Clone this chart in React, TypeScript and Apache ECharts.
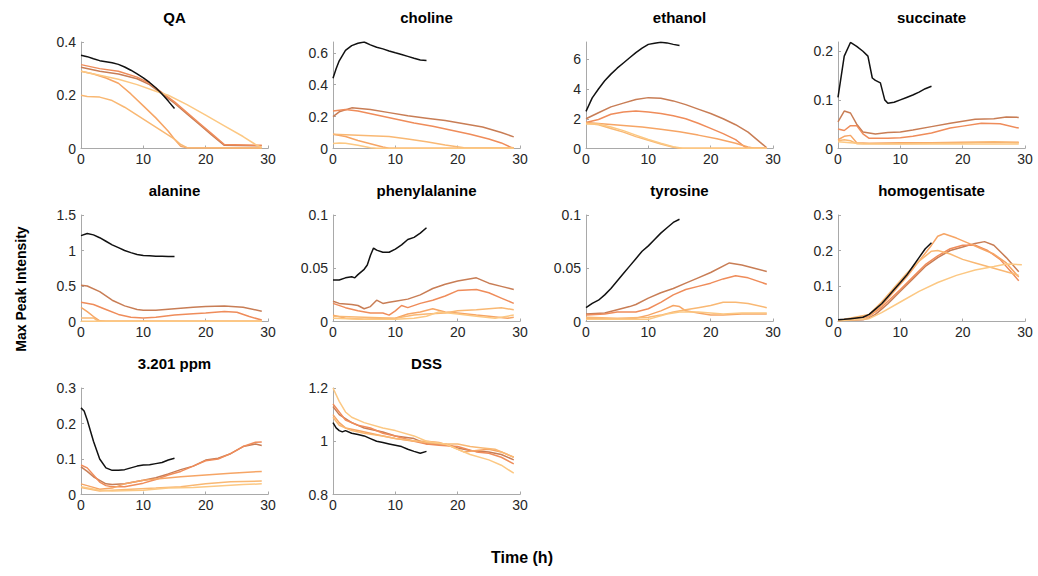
import React, { useEffect, useRef } from "react";
import * as echarts from "echarts";

// ---------- data ----------
const titles = ["QA", "choline", "ethanol", "succinate", "alanine", "phenylalanine", "tyrosine", "homogentisate", "3.201 ppm", "DSS"];
const yMins = [0, 0, 0, 0, 0, 0, 0, 0, 0, 0.8];
const yMaxs = [0.4, 0.668, 7.16, 0.219, 1.5, 0.1, 0.1, 0.3, 0.3, 1.2];
const yTickLabels = [
  [0, 0.2, 0.4],
  [0, 0.2, 0.4, 0.6],
  [0, 2, 4, 6],
  [0, 0.1, 0.2],
  [0, 0.5, 1, 1.5],
  [0, 0.05, 0.1],
  [0, 0.05, 0.1],
  [0, 0.1, 0.2, 0.3],
  [0, 0.1, 0.2, 0.3],
  [0.8, 1, 1.2],
];
const xTickLabels = [0, 10, 20, 30];

const qaBlack = [[0,.35],[1,.345],[2,.337],[3,.33],[4,.326],[5,.322],[6,.316],[7,.306],[8,.294],[9,.28],[10,.265],[11,.248],[12,.228],[13,.205],[14,.178],[15,.15]];
const qaOrange = [
  [[0,.305],[3,.29],[6,.28],[9,.262],[11,.24],[13,.205],[15,.17],[17,.13],[19,.09],[21,.05],[23,.012],[29,.01]],
  [[0,.315],[3,.3],[6,.29],[9,.268],[11,.245],[13,.21],[15,.175],[17,.135],[19,.095],[21,.055],[23,.015],[29,.012]],
  [[0,.29],[2,.28],[4,.265],[6,.245],[8,.205],[10,.16],[12,.115],[14,.065],[15,.035],[16,.008],[17,.003],[29,.002]],
  [[0,.2],[1,.195],[3,.193],[5,.18],[7,.155],[9,.125],[11,.095],[13,.065],[15,.035],[16,.015],[17,.003],[29,.002]],
  [[0,.29],[3,.275],[6,.26],[9,.24],[12,.215],[14,.2],[17,.165],[20,.125],[23,.085],[26,.045],[28,.015],[29,.003]],
];

const cholineBlack = [[0,.44],[0.5,.5],[1,.55],[2,.615],[3,.645],[4,.66],[5,.668],[6,.65],[7,.635],[8,.625],[9,.612],[10,.6],[11,.59],[12,.578],[13,.566],[14,.555],[15,.552]];
const cholineOrange = [
  [[0,.2],[1,.23],[3,.255],[6,.245],[9,.225],[12,.205],[15,.19],[18,.175],[21,.155],[24,.135],[27,.1],[29,.073]],
  [[0,.235],[2,.245],[4,.235],[7,.21],[10,.185],[13,.16],[16,.14],[19,.115],[22,.09],[25,.06],[27,.035],[28.5,.008],[29,.003]],
  [[0,.09],[2,.075],[4,.05],[6,.03],[8,.01],[9,.002],[29,.002]],
  [[0,.09],[3,.085],[6,.08],[9,.075],[12,.06],[15,.042],[18,.022],[21,.004],[29,.003]],
  [[0,.032],[1,.035],[2,.033],[4,.02],[6,.005],[7,.002],[29,.002]],
];

const ethanolBlack = [[0,2.5],[1,3.4],[2,4.0],[3,4.55],[4,5.0],[5,5.4],[6,5.75],[7,6.1],[8,6.45],[9,6.75],[10,7.0],[11,7.08],[12,7.15],[13,7.1],[14,7.0],[15,6.92]];
const ethanolOrange = [
  [[0,2.0],[2,2.4],[4,2.8],[6,3.05],[8,3.3],[10,3.42],[12,3.38],[14,3.2],[16,2.95],[18,2.65],[20,2.35],[22,2.0],[24,1.6],[26,1.1],[28,0.4],[29,0.05]],
  [[0,1.75],[2,1.95],[4,2.3],[6,2.45],[8,2.52],[10,2.45],[12,2.35],[14,2.2],[16,2.0],[18,1.7],[20,1.35],[22,1.0],[24,0.6],[25.5,0.1],[26,0.02],[29,0.01]],
  [[0,1.75],[3,1.65],[6,1.55],[9,1.45],[12,1.3],[15,1.12],[18,0.9],[21,0.65],[24,0.35],[26,0.1],[27,0.02],[29,0.01]],
  [[0,1.7],[2,1.6],[4,1.35],[6,1.1],[8,0.8],[10,0.55],[12,0.3],[14,0.08],[15,0.01],[29,0.01]],
  [[0,1.65],[2,1.65],[4,1.45],[6,1.2],[8,0.9],[10,0.6],[12,0.35],[14,0.12],[15.5,0.02],[29,0.01]],
];

const succinateBlack = [[0,.105],[1,.19],[2,.218],[3,.21],[4,.2],[4.8,.19],[5.5,.145],[6,.14],[6.8,.135],[7.5,.1],[8,.093],[9,.095],[10,.1],[11,.105],[12,.11],[13,.116],[14,.123],[15,.128]];
const succinateOrange = [
  [[0,.055],[1,.077],[2,.073],[3,.05],[4,.034],[6,.03],[8,.033],[10,.034],[12,.038],[15,.045],[18,.052],[20,.056],[22,.06],[25,.061],[27,.065],[29,.064]],
  [[0,.04],[1,.037],[2,.047],[3,.047],[4,.03],[5,.021],[8,.021],[10,.022],[12,.025],[15,.032],[18,.042],[20,.046],[23,.052],[26,.051],[29,.042]],
  [[0,.018],[1,.025],[2,.027],[3,.012],[5,.011],[10,.012],[15,.012],[20,.013],[25,.013],[29,.013]],
  [[0,.016],[1,.018],[2,.016],[3,.01],[8,.01],[15,.011],[20,.012],[25,.014],[29,.012]],
  [[0,.014],[2,.012],[4,.01],[10,.009],[16,.01],[22,.009],[29,.009]],
];

const alanineBlack = [[0,1.21],[1,1.24],[2,1.22],[3,1.18],[4,1.13],[5,1.08],[6,1.04],[7,1.0],[8,.97],[9,.945],[10,.93],[11,.925],[12,.92],[13,.92],[14,.915],[15,.915]];
const alanineOrange = [
  [[0,.51],[1,.5],[3,.42],[5,.3],[7,.22],[9,.17],[10,.16],[12,.16],[15,.18],[18,.2],[20,.21],[23,.22],[26,.2],[29,.145]],
  [[0,.27],[2,.24],[4,.17],[6,.1],[8,.06],[10,.05],[12,.06],[15,.09],[18,.11],[20,.12],[23,.14],[25,.13],[27,.07],[29,.02]],
  [[0,.2],[1,.14],[2,.07],[3,.01],[4,.003],[29,.003]],
  [[0,.05],[2,.05],[2.5,.02],[3,.005],[29,.005]],
  [[0,.005],[29,.003]],
];

const pheBlack = [[0,.039],[1,.039],[2,.041],[3,.042],[3.5,.041],[4,.044],[5,.049],[5.5,.053],[6,.062],[6.5,.069],[7,.067],[8,.065],[9,.065],[10,.068],[11,.072],[12,.077],[13,.079],[14,.083],[15,.088]];
const pheOrange = [
  [[0,.019],[1,.017],[3,.016],[4,.015],[5,.012],[6,.014],[7,.02],[8,.017],[9,.018],[10,.019],[12,.021],[14,.025],[16,.031],[18,.035],[20,.038],[23,.041],[25,.036],[27,.033],[29,.03]],
  [[0,.017],[2,.013],[4,.01],[6,.008],[8,.008],[9,.006],[10,.01],[11,.015],[12,.013],[14,.017],[16,.02],[18,.024],[20,.029],[23,.03],[25,.027],[27,.022],[29,.017]],
  [[0,.006],[2,.003],[5,.002],[10,.003],[12,.007],[14,.009],[16,.012],[18,.009],[20,.008],[23,.006],[25,.005],[28,.003],[29,.004]],
  [[0,.005],[5,.004],[10,.003],[13,.006],[15,.007],[18,.008],[20,.01],[23,.011],[25,.012],[27,.013],[29,.011]],
  [[0,.003],[5,.002],[10,.002],[13,.003],[15,.005],[17,.009],[20,.007],[23,.005],[26,.003],[28,.005],[29,.006]],
];

const tyrBlack = [[0,.013],[1,.017],[2,.02],[3,.025],[4,.031],[5,.038],[6,.045],[7,.052],[8,.059],[9,.066],[10,.071],[11,.077],[12,.083],[13,.088],[14,.093],[15,.096]];
const tyrOrange = [
  [[0,.007],[3,.008],[5,.011],[7,.014],[8,.016],[10,.022],[12,.027],[14,.031],[16,.036],[18,.041],[20,.046],[23,.055],[25,.053],[27,.05],[29,.047]],
  [[0,.006],[3,.007],[5,.009],[8,.009],[10,.012],[12,.018],[14,.025],[16,.03],[18,.033],[20,.036],[22,.04],[24,.043],[26,.041],[29,.035]],
  [[0,.003],[5,.002],[8,.003],[10,.006],[12,.01],[14,.015],[15,.014],[16,.01],[18,.008],[20,.006],[22,.006],[25,.007],[29,.007]],
  [[0,.004],[5,.003],[10,.004],[12,.006],[14,.009],[16,.011],[18,.013],[20,.015],[22,.018],[24,.018],[26,.017],[29,.013]],
  [[0,.002],[5,.002],[10,.002],[13,.007],[15,.009],[18,.009],[22,.007],[25,.008],[29,.008]],
];

const hgaBlack = [[0,.005],[1,.006],[2,.008],[3,.01],[4,.012],[5,.02],[6,.035],[7,.05],[8,.07],[9,.09],[10,.11],[11,.13],[12,.155],[13,.18],[14,.205],[15,.222]];
const hgaOrange = [
  [[0,.003],[4,.005],[5,.01],[6,.02],[7,.035],[8,.05],[10,.085],[12,.12],[14,.155],[16,.18],[18,.2],[20,.21],[22,.22],[23.5,.225],[25,.215],[27,.18],[29,.14]],
  [[0,.003],[5,.015],[7,.04],[10,.09],[12,.125],[14,.16],[16,.185],[18,.205],[20,.215],[22,.215],[24,.2],[26,.175],[28,.135],[29,.115]],
  [[0,.003],[4,.006],[5,.015],[7,.045],[9,.085],[11,.125],[13,.17],[15,.215],[16,.24],[17,.247],[19,.235],[21,.22],[23,.205],[25,.19],[27,.165],[29,.125]],
  [[0,.003],[5,.02],[7,.055],[9,.095],[11,.135],[13,.17],[15,.198],[16,.2],[18,.19],[20,.175],[22,.165],[24,.155],[26,.145],[28,.135],[29,.13]],
  [[0,.002],[5,.008],[7,.025],[10,.055],[13,.085],[16,.11],[19,.13],[22,.145],[25,.155],[27,.162],[29.5,.16]],
];

const ppmBlack = [[0,.244],[0.5,.235],[1,.21],[2,.15],[3,.1],[4,.075],[5,.068],[6,.068],[7,.07],[8,.075],[9,.08],[10,.083],[11,.084],[12,.087],[13,.09],[14,.097],[15,.102]];
const ppmOrange = [
  [[0,.078],[1,.065],[2,.05],[3,.04],[4,.03],[5,.028],[7,.03],[10,.04],[12,.047],[14,.058],[16,.07],[18,.08],[20,.097],[22,.102],[24,.115],[26,.135],[28,.142],[29,.138]],
  [[0,.083],[1,.075],[2,.055],[3,.035],[4,.025],[5,.022],[7,.022],[10,.032],[12,.042],[14,.055],[16,.065],[18,.08],[20,.095],[22,.1],[24,.115],[26,.135],[28,.147],[29,.148]],
  [[0,.03],[2,.02],[3,.015],[5,.018],[7,.03],[10,.04],[13,.045],[16,.05],[20,.055],[24,.06],[29,.065]],
  [[0,.02],[3,.01],[5,.012],[8,.015],[12,.018],[16,.022],[20,.03],[24,.036],[29,.038]],
  [[0,.022],[3,.012],[5,.01],[10,.012],[14,.018],[18,.02],[22,.024],[26,.028],[29,.03]],
];

const dssBlack = [[0,1.07],[0.5,1.05],[1,1.04],[1.5,1.035],[2,1.04],[3,1.03],[4,1.025],[5,1.02],[6,1.01],[7,1.0],[8,.995],[9,.99],[10,.985],[11,.98],[12,.97],[13,.962],[14,.955],[15,.962]];
const dssOrange = [
  [[0,1.13],[1,1.1],[3,1.07],[5,1.05],[8,1.035],[10,1.02],[13,1.01],[15,.99],[18,.99],[20,.975],[22,.965],[25,.96],[27,.95],[29,.93]],
  [[0,1.14],[1,1.11],[2,1.08],[4,1.06],[6,1.05],[8,1.03],[10,1.02],[13,1.0],[15,.99],[17,.985],[20,.98],[23,.96],[25,.955],[27,.94],[29,.915]],
  [[0,1.1],[1,1.07],[2,1.05],[4,1.04],[6,1.03],[8,1.02],[10,1.01],[13,1.0],[15,1.0],[17,.995],[19,.98],[21,.96],[23,.965],[25,.97],[27,.96],[29,.94]],
  [[0,1.09],[1,1.06],[3,1.04],[5,1.03],[8,1.02],[10,1.01],[12,1.005],[15,.995],[18,.99],[20,.99],[22,.98],[24,.975],[26,.97],[28,.95],[29,.94]],
  [[0,1.2],[1,1.15],[2,1.11],[3,1.09],[5,1.07],[8,1.05],[10,1.04],[13,1.02],[15,1.0],[18,.99],[20,.97],[22,.95],[25,.93],[27,.91],[29,.88]],
];

const blackSeries = [qaBlack, cholineBlack, ethanolBlack, succinateBlack, alanineBlack, pheBlack, tyrBlack, hgaBlack, ppmBlack, dssBlack];
const orangeSeries = [qaOrange, cholineOrange, ethanolOrange, succinateOrange, alanineOrange, pheOrange, tyrOrange, hgaOrange, ppmOrange, dssOrange];

// ---------- style ----------
const orangeColors = ["#c87d55", "#ef8c5a", "#f6a565", "#f9b873", "#fcc883"];
const FONT = "'Liberation Sans', Arial, Helvetica, sans-serif";
const colLefts = [81, 333, 586, 838];
const rowTops = [42, 215, 388];
const plotW = 187;
const plotH = 106.5;
const axisGray = "#a9a9a9";
const textColor = "#262626";

export default function App() {
  const ref = useRef<HTMLDivElement>(null);
  useEffect(() => {
    if (!ref.current) return;
    const chart = echarts.init(ref.current, undefined, { renderer: "svg" });
    const grids: any[] = [];
    const xAxes: any[] = [];
    const yAxes: any[] = [];
    const series: any[] = [];
    const graphics: any[] = [];
    titles.forEach((t, i) => {
      const left = colLefts[i % 4];
      const top = rowTops[Math.floor(i / 4)];
      grids.push({ left, top, width: plotW, height: plotH, containLabel: false });
      xAxes.push({
        gridIndex: i, type: "value", min: 0, max: 30, interval: 10,
        axisLine: { show: true, onZero: false, lineStyle: { color: axisGray, width: 1 } },
        axisTick: { show: true, inside: true, length: 3, lineStyle: { color: axisGray } },
        axisLabel: { margin: 3, color: textColor, fontSize: 14, fontFamily: FONT, customValues: xTickLabels },
        splitLine: { show: false },
      });
      yAxes.push({
        gridIndex: i, type: "value", min: yMins[i], max: yMaxs[i],
        axisLine: { show: true, onZero: false, lineStyle: { color: axisGray, width: 1 } },
        axisTick: { show: true, inside: true, length: 3, lineStyle: { color: axisGray }, customValues: yTickLabels[i] },
        axisLabel: { margin: 5, color: textColor, fontSize: 14, fontFamily: FONT, customValues: yTickLabels[i] },
        splitLine: { show: false },
      });
      orangeSeries[i].forEach((d, k) => {
        series.push({
          type: "line", xAxisIndex: i, yAxisIndex: i, data: d, showSymbol: false, silent: true,
          lineStyle: { color: orangeColors[k], width: 1.5 }, z: 2,
        });
      });
      series.push({
        type: "line", xAxisIndex: i, yAxisIndex: i, data: blackSeries[i], showSymbol: false, silent: true,
        lineStyle: { color: "#111111", width: 1.5 }, z: 3,
      });
      graphics.push({
        type: "text", x: left + plotW / 2, y: top - 25,
        style: { text: t, align: "center", verticalAlign: "middle", font: `bold 15px ${FONT}`, fill: "#000" },
      });
    });
    graphics.push({
      type: "text", x: 522, y: 557,
      style: { text: "Time (h)", align: "center", verticalAlign: "middle", font: `bold 16px ${FONT}`, fill: "#000" },
    });
    graphics.push({
      type: "text", x: 21, y: 289, rotation: Math.PI / 2,
      style: { text: "Max Peak Intensity", align: "center", verticalAlign: "middle", font: `bold 14px ${FONT}`, fill: "#000" },
    });
    chart.setOption({
      animation: false,
      backgroundColor: "#ffffff",
      grid: grids,
      xAxis: xAxes,
      yAxis: yAxes,
      series,
      graphic: graphics,
    });
    return () => chart.dispose();
  }, []);
  return <div ref={ref} style={{ position: "fixed", left: 0, top: 0, width: 1038, height: 576 }} />;
}
